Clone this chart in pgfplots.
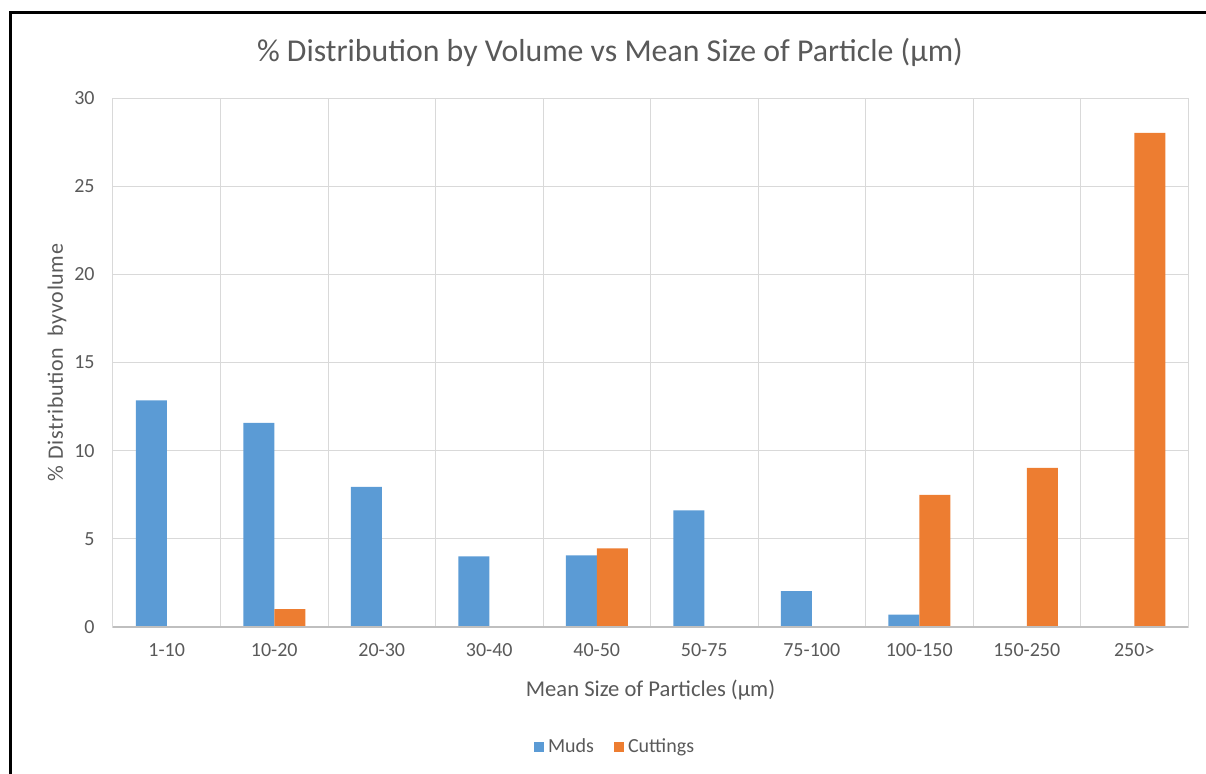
\documentclass[border=0pt]{standalone}
\usepackage{pgfplots}
\pgfplotsset{compat=1.18}
\usepackage{fontspec}
\setmainfont{Carlito}
\definecolor{muds}{HTML}{5B9BD5}
\definecolor{cutt}{HTML}{ED7D31}
\definecolor{gridc}{HTML}{D9D9D9}
\definecolor{axisc}{HTML}{BFBFBF}
\definecolor{txt}{HTML}{595959}
\begin{document}
\begin{tikzpicture}
\begin{axis}[
  at={(56.5pt,73pt)}, anchor=south west,
  scale only axis, width=537.5pt, height=264.5pt,
  ybar=0pt, bar width=15.5pt,
  xmin=-0.5, xmax=9.5, ymin=0, ymax=30,
  xtick={0,...,9},
  xticklabels={1-10,10-20,20-30,30-40,40-50,50-75,75-100,100-150,150-250,250>},
  minor xtick={0.5,1.5,...,8.5},
  ytick={0,5,...,30},
  major tick length=0pt, minor tick length=0pt,
  xmajorgrids=false, xminorgrids=true, ymajorgrids=true,
  grid style={gridc, line width=0.5pt},
  minor grid style={gridc, line width=0.5pt},
  axis line style={gridc, line width=0.5pt},
  tick label style={font=\fontsize{10}{12}\selectfont, text=txt},
  xticklabel style={anchor=north, inner sep=0pt, yshift=-8pt},
  yticklabel style={anchor=east, inner sep=0pt, xshift=-9pt},
  /pgf/number format/assume math mode=true,
  xlabel={Mean Size of Particles (µm)},
  xlabel style={at={(axis description cs:0.5,0)}, anchor=center, yshift=-31.5pt, font=\fontsize{11.3}{13}\selectfont, text=txt},
  ylabel={\addfontfeature{LetterSpace=3}\% Distribution\ \ byvolume},
  ylabel style={at={(axis description cs:0,0.5)}, anchor=center, yshift=28pt, font=\fontsize{11}{13}\selectfont, text=txt},
  legend columns=2,
  legend style={at={(axis description cs:0.468,-0.227)}, anchor=center, draw=none, fill=none,
    font=\fontsize{10}{12}\selectfont, text=txt,
    /tikz/every even column/.append style={column sep=8pt}},
  legend image code/.code={\fill[#1] (0pt,-2.6pt) rectangle (5pt,2.4pt);},
]
\addplot[fill=muds, draw=none] coordinates {(0,12.85) (1,11.57) (2,7.95) (3,4.0) (4,4.06) (5,6.61) (6,2.03) (7,0.7) (8,0) (9,0)};
\addlegendentry{Muds}
\addplot[fill=cutt, draw=none] coordinates {(0,0) (1,1.02) (2,0) (3,0) (4,4.46) (5,0) (6,0) (7,7.49) (8,9.02) (9,28.02)};
\addlegendentry{Cuttings}
\draw[axisc, line width=0.7pt] (axis cs:-0.5,0) -- (axis cs:9.5,0);
\end{axis}
\node[text=txt, font=\fontsize{15.9}{19}\selectfont] at (305pt,360.5pt) {\% Distribution by Volume vs Mean Size of Particle (µm)};
\draw[black, line width=1.3pt] (5.25pt,-2pt) -- (5.25pt,380.25pt) -- (610pt,380.25pt);
\pgfresetboundingbox
\path[use as bounding box] (0,0) rectangle (603pt,386.5pt);
\end{tikzpicture}
\end{document}
